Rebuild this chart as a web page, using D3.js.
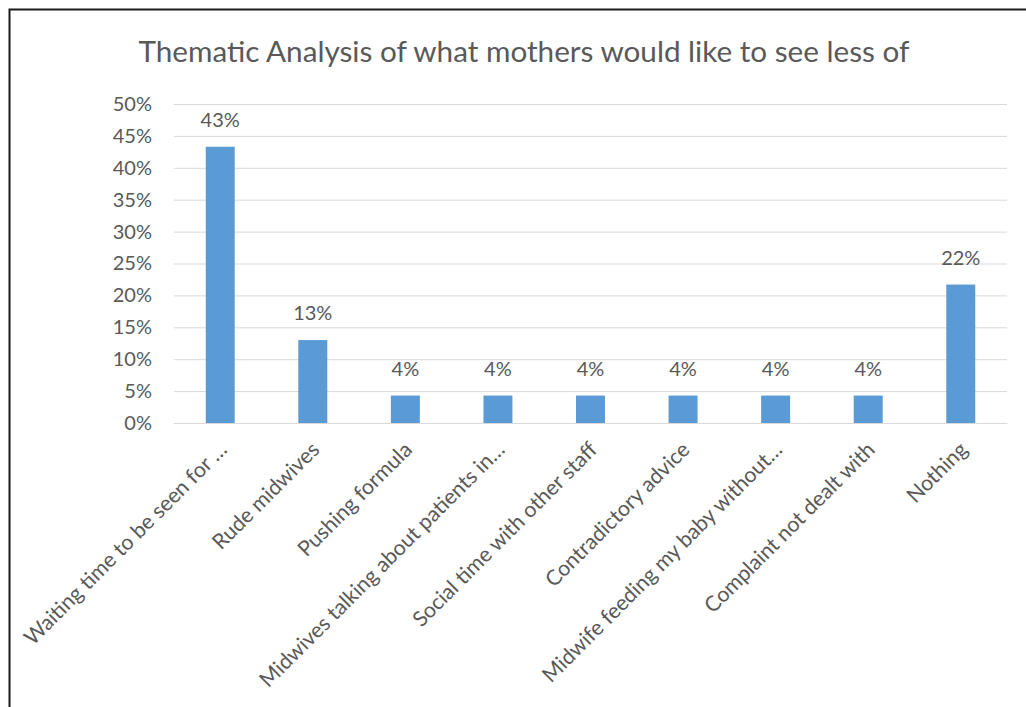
<!DOCTYPE html>
<meta charset="UTF-8">
<style>
  body { margin: 0; background: #fff; }
  text { font-family: Lato, "Open Sans", sans-serif; fill: #595959; }
</style>
<svg width="1026" height="707"></svg>
<script src="https://d3js.org/d3.v7.min.js"></script>
<script>

var categories = [
  "Waiting time to be seen for \u2026",
  "Rude midwives",
  "Pushing formula",
  "Midwives talking about patients in\u2026",
  "Social time with other staff",
  "Contradictory advice",
  "Midwife feeding my baby without\u2026",
  "Complaint not dealt with",
  "Nothing"
];
var values = [0.433, 0.13, 0.043, 0.043, 0.043, 0.043, 0.043, 0.043, 0.217];
var yTicks = [0, 0.05, 0.10, 0.15, 0.20, 0.25, 0.30, 0.35, 0.40, 0.45, 0.50];
var title = "Thematic Analysis of what mothers would like to see less of";

var svg = d3.select("svg"),
    margin = {top: 104, right: 19, bottom: 284, left: 174},
    width = +svg.attr("width") - margin.left - margin.right,
    height = +svg.attr("height") - margin.top - margin.bottom,
    g = svg.append("g").attr("transform", "translate(" + margin.left + "," + margin.top + ")");

// chart frame (only top and left edges show in the picture)
svg.append("rect")
    .attr("x", 9.5).attr("y", 9.5)
    .attr("width", 1100).attr("height", 800)
    .attr("fill", "none")
    .attr("stroke", "#1a1a1a")
    .attr("stroke-width", 2);

svg.append("text")
    .attr("x", 524)
    .attr("y", 62)
    .attr("text-anchor", "middle")
    .style("font-size", "29.7px")
    .text(title);

var x = d3.scaleBand().domain(categories).range([0, width]).paddingInner(0.687).paddingOuter(0.343);
var y = d3.scaleLinear().domain([0, 0.5]).range([height, 0]);

// y axis with gridlines
var yAxis = g.append("g")
    .call(d3.axisLeft(y).tickValues(yTicks).tickSize(-width).tickFormat(d3.format(".0%")).tickPadding(22));
yAxis.select(".domain").remove();
yAxis.selectAll("line").attr("stroke", "#d9d9d9");
yAxis.selectAll("text").style("font-size", "20px").attr("fill", "#595959");

g.selectAll(".bar")
    .data(values)
    .enter().append("rect")
    .attr("class", "bar")
    .attr("x", function(d, i) { return x(categories[i]); })
    .attr("y", function(d) { return y(d); })
    .attr("width", x.bandwidth())
    .attr("height", function(d) { return height - y(d); })
    .attr("fill", "#5b9bd5");

g.selectAll(".label")
    .data(values)
    .enter().append("text")
    .attr("class", "label")
    .attr("x", function(d, i) { return x(categories[i]) + x.bandwidth() / 2; })
    .attr("y", function(d) { return y(d) - 20; })
    .attr("text-anchor", "middle")
    .style("font-size", "20px")
    .text(function(d) { return Math.round(d * 100) + "%"; });

// x axis
var xAxis = g.append("g")
    .attr("transform", "translate(0," + height + ")")
    .call(d3.axisBottom(x).tickSize(0));
xAxis.select(".domain").attr("stroke", "#d9d9d9");
xAxis.selectAll("text")
    .attr("x", 0).attr("y", 0).attr("dy", 0)
    .attr("transform", "translate(8,28) rotate(-45)")
    .attr("text-anchor", "end")
    .attr("fill", "#595959")
    .style("font-size", "21.3px");

</script>
